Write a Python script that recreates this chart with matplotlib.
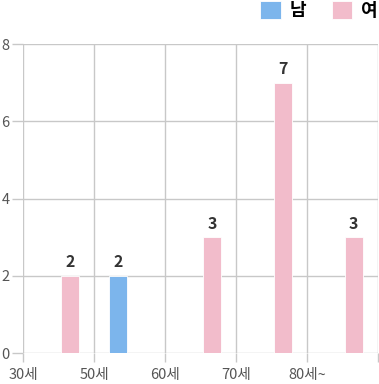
import matplotlib

matplotlib.use("Agg")
import matplotlib.pyplot as plt
import numpy as np

plt.rcParams["font.family"] = ["Noto Sans CJK KR", "DejaVu Sans"]

categories = ["30세", "50세", "60세", "70세", "80세~"]
male = [0, 2, 0, 0, 0]
female = [2, 0, 3, 7, 3]

MALE_COLOR = "#7cb5ec"
FEMALE_COLOR = "#f2bccb"
GRID_COLOR = "#c8c8c8"

fig = plt.figure(figsize=(3.79, 3.84), dpi=100)
ax = fig.add_axes([0.0616, 0.0807, 0.9354, 0.8039])

x = np.arange(len(categories))
width = 0.25
offset = 0.16
male_bars = ax.bar(x - offset, male, width, color=MALE_COLOR,
                   edgecolor="white", linewidth=0.6, label="남", zorder=3)
female_bars = ax.bar(x + offset, female, width, color=FEMALE_COLOR,
                     edgecolor="white", linewidth=0.6, label="여", zorder=3)

for bars, values in ((male_bars, male), (female_bars, female)):
    for bar, value in zip(bars, values):
        if value:
            ax.text(bar.get_x() + bar.get_width() / 2, value + 0.14,
                    str(value), ha="center", va="bottom",
                    fontsize=11.5, fontweight="bold", color="#333333")

ax.set_xlim(-0.5, len(categories) - 0.5)
ax.set_ylim(0, 8)
ax.set_yticks([0, 2, 4, 6, 8])
ax.set_xticks(np.append(x - 0.5, len(categories) - 0.5))
ax.set_xticklabels(categories + [""])

ax.grid(True, color=GRID_COLOR, linewidth=1.0, zorder=0)
for spine in ax.spines.values():
    spine.set_visible(False)
ax.tick_params(axis="y", length=8, width=1.0, color=GRID_COLOR, pad=2,
               labelsize=10.5, labelcolor="#555555")
ax.tick_params(axis="x", length=6.5, width=1.0, color=GRID_COLOR, pad=4.5,
               labelsize=10.5, labelcolor="#555555")

fig.legend(handles=[male_bars, female_bars], labels=["남", "여"],
           loc="upper right", bbox_to_anchor=(1.0, 1.0), ncol=2,
           frameon=False, borderpad=0.0, borderaxespad=0.05,
           handlelength=1.15, handleheight=1.15,
           columnspacing=1.4, handletextpad=0.5,
           prop={"size": 13, "weight": "bold"})

fig.savefig("out.png", dpi=100)
